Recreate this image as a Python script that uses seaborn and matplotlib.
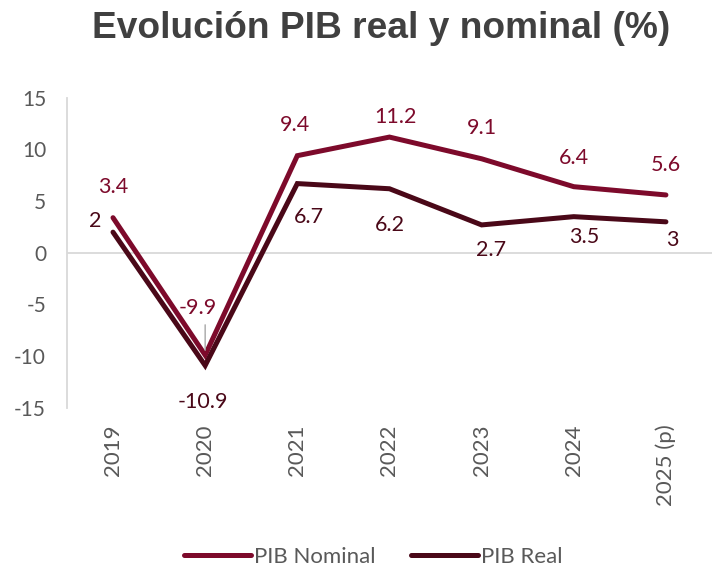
import matplotlib
matplotlib.use("Agg")
import matplotlib.pyplot as plt
import numpy as np
import pandas as pd
import seaborn as sns

years = ["2019", "2020", "2021", "2022", "2023", "2024", "2025 (p)"]
pib_nominal = [3.4, -9.9, 9.4, 11.2, 9.1, 6.4, 5.6]
pib_real = [2, -10.9, 6.7, 6.2, 2.7, 3.5, 3]
nominal_labels = ["3.4", "-9.9", "9.4", "11.2", "9.1", "6.4", "5.6"]
real_labels = ["2", "-10.9", "6.7", "6.2", "2.7", "3.5", "3"]

col_nominal = "#7d0a2b"
col_real = "#4a0818"
gray_txt = "#595959"

sns.set_theme(style="white")
plt.rcParams["font.family"] = ["Lato", "DejaVu Sans"]
plt.rcParams["axes.unicode_minus"] = False

df = pd.DataFrame({
    "year": years * 2,
    "valor": pib_nominal + pib_real,
    "serie": ["PIB Nominal"] * len(years) + ["PIB Real"] * len(years),
})

fig = plt.figure(figsize=(7.12, 5.72), dpi=100)
ax = fig.add_axes([0.094, 0.287, 0.906, 0.542])

sns.lineplot(data=df, x="year", y="valor", hue="serie", sort=False,
             palette={"PIB Nominal": col_nominal, "PIB Real": col_real},
             linewidth=3.6, ax=ax, legend=True)
for l in ax.lines:
    l.set_solid_capstyle("round")
    l.set_solid_joinstyle("miter")

ax.axhline(0, color="#d9d9d9", lw=1.3, zorder=0)
ax.set_xlim(-0.5, 6.5)
ax.set_ylim(-15, 15)
ax.set_yticks(np.arange(-15, 16, 5))
ax.set_xlabel("")
ax.set_ylabel("")
for s in ["top", "right", "bottom"]:
    ax.spines[s].set_visible(False)
ax.spines["left"].set_color("#d9d9d9")
ax.spines["left"].set_linewidth(1.3)
ax.tick_params(axis="both", length=0, colors=gray_txt, labelsize=15)
ax.tick_params(axis="x", labelsize=16, pad=12)
ax.tick_params(axis="y", pad=15)
plt.setp(ax.get_xticklabels(), rotation=90, va="top", ha="center")

# label offsets (pixels) relative to each point
nom_off = [(0, 31), (-7, 47), (-2, 31), (6, 20), (0, 31), (0, 29), (0, 30)]
real_off = [(-18, 11), (-2, -37), (12, -33), (0, -36), (9, -25), (10, -20), (6, -18)]

for i, (v, t) in enumerate(zip(pib_nominal, nominal_labels)):
    ax.annotate(t, (i, v), xytext=nom_off[i], textcoords="offset pixels",
                ha="center", va="center", fontsize=15.5, color=col_nominal)
for i, (v, t) in enumerate(zip(pib_real, real_labels)):
    ax.annotate(t, (i, v), xytext=real_off[i], textcoords="offset pixels",
                ha="center", va="center", fontsize=15.5, color=col_real)

# leader line for the 2020 nominal label
ax.annotate("", (1, pib_nominal[1] + 0.2), xytext=(1, -6.7),
            arrowprops=dict(arrowstyle="-", color="#a6a6a6", lw=1))

ax.legend(loc="center", bbox_to_anchor=(0.475, -0.48), ncol=2,
          frameon=False, fontsize=16, handlelength=3.0, handletextpad=0.15,
          columnspacing=1.6, labelcolor=gray_txt)

fig.text(0.535, 0.95, "Evolución PIB real y nominal (%)", ha="center", va="center",
         fontsize=26.7, fontweight="bold", color="#404040",
         family=["Liberation Sans", "DejaVu Sans"])

fig.savefig("out.png", dpi=100)
